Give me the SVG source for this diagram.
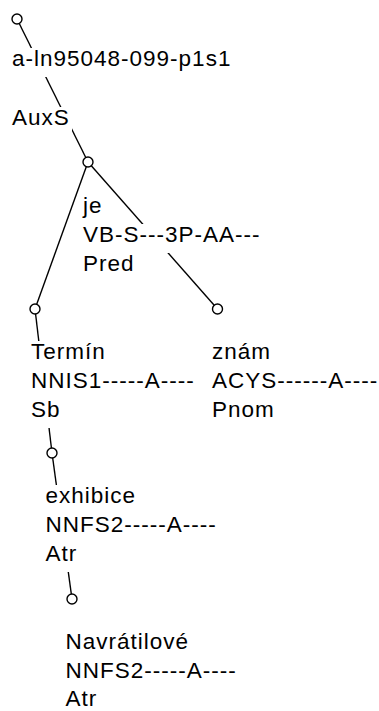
<svg xmlns="http://www.w3.org/2000/svg" width="379" height="711" viewBox="0 0 379 711">
<style>
  .edge { stroke: #000; stroke-width: 1.4; fill: none; }
  .node { stroke: #000; stroke-width: 1.4; fill: #fff; }
  .bg { fill: #fff; stroke: none; }
  text { font-family: "Liberation Sans", Arial, Helvetica, sans-serif; font-size: 22.5px; letter-spacing: 1px; fill: #000; }
</style>
<rect width="379" height="711" fill="#fff"/>
<g id="connectors">
  <line class="edge" x1="17" y1="19" x2="88" y2="162"/>
  <line class="edge" x1="88" y1="162" x2="35" y2="309"/>
  <line class="edge" x1="88" y1="162" x2="217.5" y2="309"/>
  <line class="edge" x1="35" y1="309" x2="52" y2="453"/>
  <line class="edge" x1="52" y1="453" x2="72" y2="599"/>
</g>
<g id="n-root">
  <rect class="bg" x="11" y="48" width="222" height="29"/>
  <rect class="bg" x="11" y="107" width="61" height="29"/>
  <circle class="node" cx="17" cy="19" r="5"/>
  <text x="12" y="66">a-ln95048-099-p1s1</text>
  <text x="12" y="125">AuxS</text>
</g>
<g id="n-je">
  <rect class="bg" x="82" y="195" width="23" height="29"/>
  <rect class="bg" x="82" y="224" width="180" height="29"/>
  <rect class="bg" x="82" y="253" width="54" height="29"/>
  <circle class="node" cx="88" cy="162" r="5"/>
  <text x="83" y="213">je</text>
  <text x="83" y="242">VB-S---3P-AA---</text>
  <text x="83" y="271">Pred</text>
</g>
<g id="n-termin">
  <rect class="bg" x="30" y="341" width="79" height="29"/>
  <rect class="bg" x="30" y="370" width="167" height="29"/>
  <rect class="bg" x="30" y="399" width="32" height="29"/>
  <circle class="node" cx="35" cy="309" r="5"/>
  <text x="31" y="359">Termín</text>
  <text x="31" y="388">NNIS1-----A----</text>
  <text x="31" y="417">Sb</text>
</g>
<g id="n-znam">
  <circle class="node" cx="217.5" cy="309" r="5"/>
  <text x="212" y="359">znám</text>
  <text x="212" y="388">ACYS------A----</text>
  <text x="212" y="417">Pnom</text>
</g>
<g id="n-exhibice">
  <rect class="bg" x="44.5" y="485" width="93" height="29"/>
  <rect class="bg" x="44.5" y="514" width="174" height="29"/>
  <rect class="bg" x="44.5" y="543" width="34" height="29"/>
  <circle class="node" cx="52" cy="453" r="5"/>
  <text x="45.5" y="503">exhibice</text>
  <text x="45.5" y="532">NNFS2-----A----</text>
  <text x="45.5" y="561">Atr</text>
</g>
<g id="n-navratilove">
  <circle class="node" cx="72" cy="599" r="5"/>
  <text x="65.5" y="649">Navrátilové</text>
  <text x="65.5" y="678">NNFS2-----A----</text>
  <text x="65.5" y="706">Atr</text>
</g>
</svg>
